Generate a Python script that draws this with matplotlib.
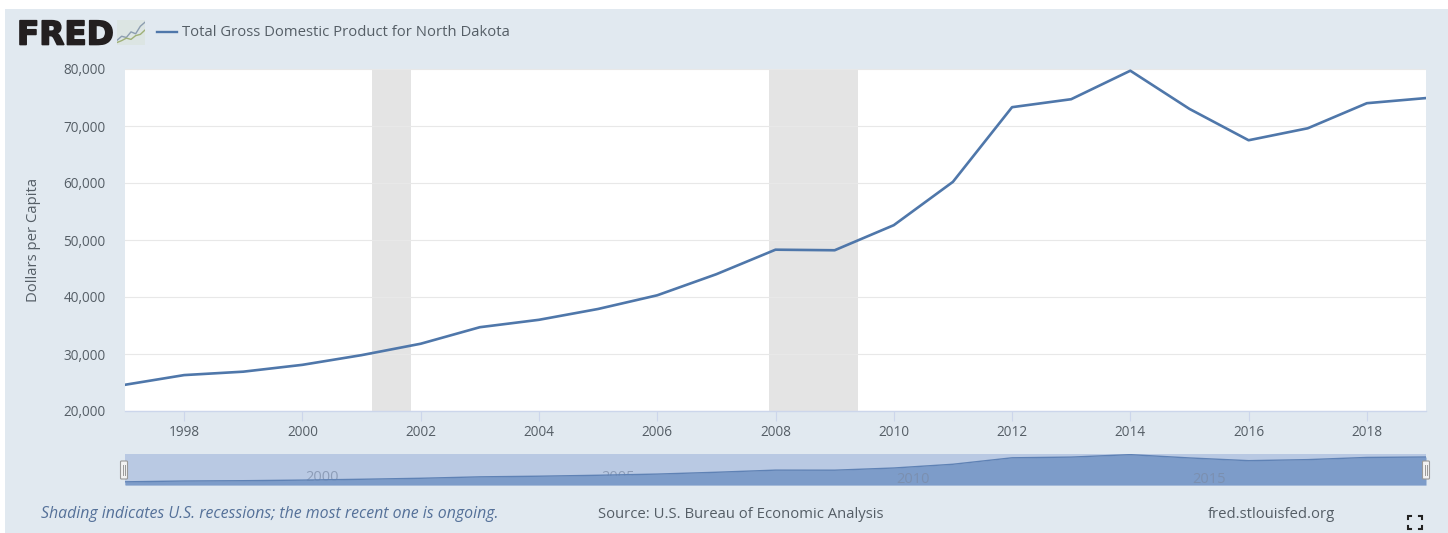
import matplotlib
matplotlib.use('Agg')
import matplotlib.pyplot as plt
import matplotlib.patheffects as pe
from matplotlib.patches import Rectangle, FancyBboxPatch

plt.rcParams['font.family'] = ['Open Sans', 'DejaVu Sans']

W, H = 1448, 533

# data
years = [1997, 1998, 1999, 2000, 2001, 2002, 2003, 2004, 2005, 2006, 2007, 2008,
         2009, 2010, 2011, 2012, 2013, 2014, 2015, 2016, 2017, 2018, 2019]
gdp = [24600, 26300, 26900, 28100, 29800, 31800, 34700, 36000, 37900, 40300, 44000, 48300,
       48200, 52600, 60200, 73300, 74700, 79700, 73000, 67500, 69600, 74000, 74900]
recessions = [(2001.17, 2001.83), (2007.89, 2009.4)]
y_ticks = [20000, 30000, 40000, 50000, 60000, 70000, 80000]
x_ticks = [1998, 2000, 2002, 2004, 2006, 2008, 2010, 2012, 2014, 2016, 2018]
nav_years = [2000, 2005, 2010, 2015]
legend_label = 'Total Gross Domestic Product for North Dakota'
logo_x = [0, 1, 2, 3, 4, 5, 6]
logo_a = [1.5, 2.8, 2.4, 4.2, 3.6, 6.0, 7.3]
logo_b = [0.8, 1.4, 2.2, 1.8, 3.0, 3.4, 4.8]

LINE = '#4f77aa'
BG = '#e1e9f0'
TXT = '#555e66'


def px_axes(fig, x0, y0, x1, y1, **kw):
    # axes from pixel box, y counted from top of the image
    return fig.add_axes([x0 / W, 1 - y1 / H, (x1 - x0) / W, (y1 - y0) / H], **kw)


fig = plt.figure(figsize=(W / 100, H / 100), dpi=100, facecolor='white')

# background panel
bg = px_axes(fig, 0, 0, W, H)
bg.set_xlim(0, W)
bg.set_ylim(H, 0)
bg.axis('off')
bg.add_patch(Rectangle((5, 9), W - 5, H - 9, fc=BG, ec='none'))

# main plot
ax = px_axes(fig, 125, 69, 1426, 411)
ax.set_facecolor('white')
for s in ['top', 'right', 'left']:
    ax.spines[s].set_visible(False)
ax.spines['bottom'].set_color('#ccd6eb')
ax.spines['bottom'].set_linewidth(1)
for a, b in recessions:
    ax.axvspan(a, b, color='#e4e4e4', lw=0, zorder=1)
ax.plot(years, gdp, color=LINE, lw=1.9, zorder=3, solid_joinstyle='round')
ax.set_xlim(1997, 2019)
ax.set_ylim(20000, 80000)
ax.set_yticks(y_ticks)
ax.set_yticklabels([f'{v:,}' for v in y_ticks], color=TXT, fontsize=9.8)
ax.set_xticks(x_ticks)
ax.set_xticklabels([str(v) for v in x_ticks], color=TXT, fontsize=9.8)
ax.grid(axis='y', color='#e8e8e8', lw=0.8, zorder=0)
ax.tick_params(axis='y', length=0, pad=14)
ax.tick_params(axis='x', length=7, width=0.8, color='#ccd6eb', pad=3)
ax.set_ylabel('Dollars per Capita', color=TXT, fontsize=10.7, labelpad=16)

# navigator strip
nav = px_axes(fig, 125, 453.5, 1426, 485)
nav.set_facecolor('#b9c9e3')
nav.fill_between(years, gdp, 18000, color='#7d9cc9', lw=0, zorder=2)
nav.plot(years, gdp, color='#5f82b5', lw=1, zorder=3)
nav.set_xlim(1997, 2019)
nav.set_ylim(18200, 82000)
nav.set_xticks([])
nav.set_yticks([])
for s in nav.spines.values():
    s.set_visible(False)
for yr in nav_years:
    # the navigator labels sit a third of a year right of their year
    nav.text(yr + 0.33, 34000 if yr < 2006 else 30000, str(yr), ha='center', va='center', fontsize=10.5,
             color='#7a8aa5', alpha=0.7, zorder=1.5 if yr < 2006 else 4)

# overlay in pixel coords for handles, logo, legend, footer
over = px_axes(fig, 0, 0, W, H)
over.set_xlim(0, W)
over.set_ylim(H, 0)
over.axis('off')
over.set_zorder(5)
for hx in (124, 1426):
    over.add_patch(FancyBboxPatch((hx - 3.5, 461), 7, 18, boxstyle='round,pad=0,rounding_size=1',
                                  fc='#f2f2f2', ec='#999999', lw=0.8))
    over.plot([hx - 1, hx - 1], [465, 475], color='#999999', lw=0.7)
    over.plot([hx + 1, hx + 1], [465, 475], color='#999999', lw=0.7)

# logo and legend
over.text(17, 31.5, 'FRED', fontsize=23.5, fontweight='bold', color='#231f20', family='DejaVu Sans',
          va='center_baseline', ha='left',
          path_effects=[pe.withStroke(linewidth=1.2, foreground='#231f20')])
icon = px_axes(fig, 117, 20, 145, 45)
icon.set_xlim(0, 6)
icon.set_ylim(0, 8)
icon.set_facecolor('#dce5e3')
icon.set_xticks([])
icon.set_yticks([])
for s in icon.spines.values():
    s.set_visible(False)
icon.plot(logo_x, logo_a, color='#8c9db0', lw=1)
icon.plot(logo_x, logo_b, color='#9fb077', lw=1)
icon.set_zorder(6)
over.plot([157, 177], [32, 32], color=LINE, lw=1.7)
over.text(182, 32.5, legend_label, fontsize=10.7, color=TXT, va='center', ha='left')

# footer
over.text(41, 514, 'Shading indicates U.S. recessions; the most recent one is ongoing.', fontsize=11.4,
          style='italic', color='#557199', va='center')
over.text(598, 514, 'Source: U.S. Bureau of Economic Analysis', fontsize=10.7, color=TXT, va='center')
over.text(1208, 514, 'fred.stlouisfed.org', fontsize=10.7, color=TXT, va='center')
for cx, cy, dx, dy in [(1408, 516, 1, 1), (1422, 516, -1, 1), (1408, 529, 1, -1), (1422, 529, -1, -1)]:
    over.plot([cx + 3 * dx, cx, cx], [cy, cy, cy + 3 * dy], color='#222222', lw=1.5, solid_joinstyle='miter')

fig.savefig('out.png', dpi=100, facecolor=fig.get_facecolor())
